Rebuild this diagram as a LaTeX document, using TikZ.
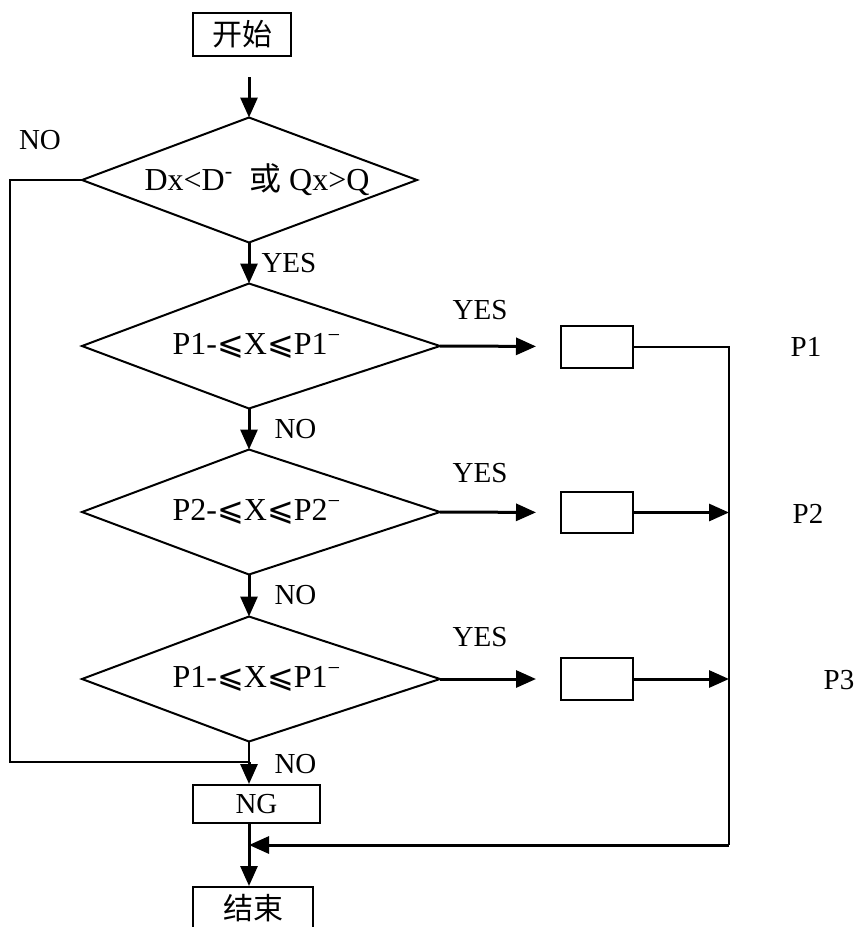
\documentclass[tikz,border=0pt]{standalone}
\usepackage{fontspec}
\setmainfont{Liberation Serif}
\newfontfamily\cjk{Noto Sans CJK SC}
\newfontfamily\symf{DejaVu Sans}
\usetikzlibrary{arrows.meta,calc}

% four-sided decision shape: name, centre y, left x, right x, text
\newcommand{\kite}[5]{%
  \coordinate (#1t) at (249,#2-62.5);
  \coordinate (#1b) at (249,#2+62.5);
  \coordinate (#1l) at (#3,#2);
  \coordinate (#1r) at (#4,#2);
  \draw[line] (#1t) -- (#1r) -- (#1b) -- (#1l) -- cycle;
  \node[lbl,font=\fontsize{16pt}{18pt}\selectfont] (#1) at (257,#2) {#5};
}
\newcommand{\range}[1]{#1-{\symf ⩽}X{\symf ⩽}#1\textsuperscript{−}}

\begin{document}
\begin{tikzpicture}[x=0.5pt,y=-0.5pt,font=\fontsize{14.5pt}{16pt}\selectfont,
  box/.style={draw,line width=1pt,inner sep=0pt},
  flow/.style={-{Triangle[length=10pt,width=8.5pt]},line width=1.5pt},
  line/.style={line width=1pt},
  lbl/.style={inner sep=0pt}]
  \useasboundingbox (0,0) rectangle (855,927);

  \node[box,minimum width=49pt,minimum height=21.5pt,font=\fontsize{15pt}{17pt}\selectfont] (start) at (242,34.5) {\cjk 开始};
  \kite{d1}{180}{82}{417}{Dx<D\textsuperscript{-}\ \ {\cjk 或} Qx>Q}
  \kite{d2}{346}{82}{440}{\range{P1}}
  \kite{d3}{512}{82}{440}{\range{P2}}
  \kite{d4}{679}{82}{440}{\range{P1}}
  \node[box,minimum width=36pt,minimum height=21pt] (b1) at (597,346.5) {};
  \node[box,minimum width=36pt,minimum height=20.5pt] (b2) at (597,512.5) {};
  \node[box,minimum width=36pt,minimum height=21pt] (b3) at (597,679) {};
  \node[box,minimum width=63.5pt,minimum height=19pt] (ng) at (256.5,804) {NG};
  \node[box,minimum width=60pt,minimum height=21.5pt,font=\fontsize{15pt}{17pt}\selectfont] (end) at (253,908.5) {\cjk 结束};
  \coordinate (join) at (249,762);
  \coordinate (bus) at (729,845);

  % labels
  \node[lbl] (no0) at (40,140) {NO};
  \node[lbl] (yes1) at (480,310) {YES};
  \node[lbl] (yes2) at (480,473) {YES};
  \node[lbl] (yes3) at (480,637) {YES};
  \node[lbl] (p1) at (806,347) {P1};
  \node[lbl] (p2) at (808,514) {P2};
  \node[lbl] (p3) at (839,680) {P3};

  % main column
  \draw[flow] (d1t |- start.south) ++(0,20) -- (d1t);
  \draw[flow] (d1b) -- (d2t) node[lbl,midway,right=5.5pt] (yes0) {YES};
  \draw[flow] (d2b) -- (d3t) node[lbl,midway,right=12pt] (no1) {NO};
  \draw[flow] (d3b) -- (d4t) node[lbl,midway,right=12pt] (no2) {NO};
  \draw[line] (d4b) -- (join);
  \draw[flow] (join) -- (join |- ng.north) node[lbl,pos=0.1,right=12pt] (no3) {NO};
  \draw[line] (d1l) -- ++(-72,0) |- (join);
  \draw[flow] (ng.south -| join) -- (end.north -| join);

  % yes branches
  \draw[flow,shorten >=12pt] (d2r) -- (b1.west);
  \draw[flow,shorten >=12pt] (d3r) -- (b2.west);
  \draw[flow,shorten >=12pt] (d4r) -- (b3.west);
  \draw[line] (b1.east) -- (b1.east -| bus) -- (bus);
  \draw[flow] (b2.east) -- (b2.east -| bus);
  \draw[flow] (b3.east) -- (b3.east -| bus);
  \draw[flow] (bus) -- (bus -| join);
\end{tikzpicture}
\end{document}
